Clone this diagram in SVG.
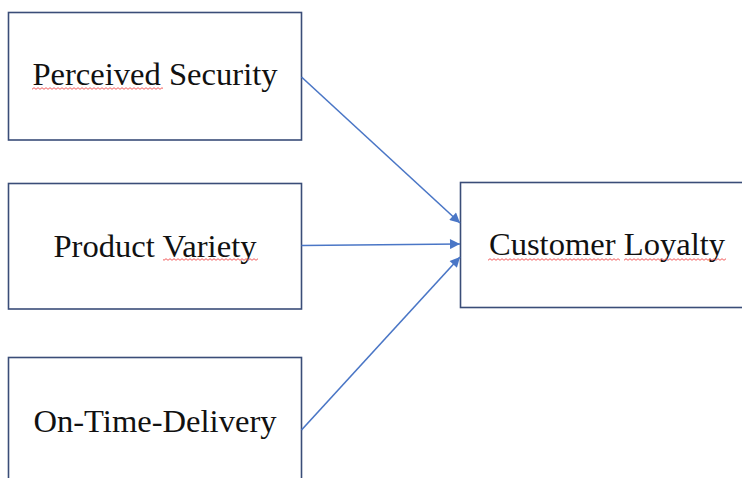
<svg xmlns="http://www.w3.org/2000/svg" width="742" height="478" viewBox="0 0 742 478">
<style>
.box{fill:#fff;stroke:#3a4d78;stroke-width:1.6}
.lbl{font-family:"Liberation Serif","Times New Roman",serif;font-size:32.6px;fill:#111;text-anchor:middle}
.conn{stroke:#4a76c6;stroke-width:1.6;fill:none;marker-end:url(#ah)}
.sq{fill:url(#wave)}
</style>
<defs>
<marker id="ah" viewBox="0 0 10 10" refX="10" refY="5" markerWidth="11" markerHeight="10" markerUnits="userSpaceOnUse" orient="auto"><path d="M0,0 L10,5 L0,10 Z" fill="#4a76c6"/></marker>
<pattern id="wave" patternUnits="userSpaceOnUse" width="4" height="3"><path d="M0,2.3 L2,0.7 L4,2.3" fill="none" stroke="#f04848" stroke-width="0.9"/></pattern>
</defs>
<rect width="742" height="478" fill="#fff"/>
<g id="node-perceived-security">
<rect class="box" x="8.5" y="12.5" width="293" height="127.5"/>
<text class="lbl" x="155" y="85">Perceived Security</text>
<rect class="sq" x="32" y="87" width="131" height="3"/>
</g>
<g id="node-product-variety">
<rect class="box" x="8.5" y="183.5" width="293" height="125.5"/>
<text class="lbl" x="155" y="257">Product Variety</text>
<rect class="sq" x="163" y="258" width="95" height="3"/>
</g>
<g id="node-on-time-delivery">
<rect class="box" x="8.5" y="357.5" width="293" height="140"/>
<text class="lbl" x="155" y="432">On-Time-Delivery</text>
</g>
<g id="node-customer-loyalty">
<rect class="box" x="460.5" y="182.5" width="293" height="125"/>
<text class="lbl" x="607" y="255">Customer Loyalty</text>
<rect class="sq" x="488" y="258" width="132" height="3"/>
<rect class="sq" x="624" y="258" width="102" height="3"/>
</g>
<g id="connectors">
<line class="conn" x1="301.5" y1="77" x2="460" y2="223"/>
<line class="conn" x1="301.5" y1="245.5" x2="460" y2="244"/>
<line class="conn" x1="301.5" y1="430" x2="460" y2="257"/>
</g>
</svg>
